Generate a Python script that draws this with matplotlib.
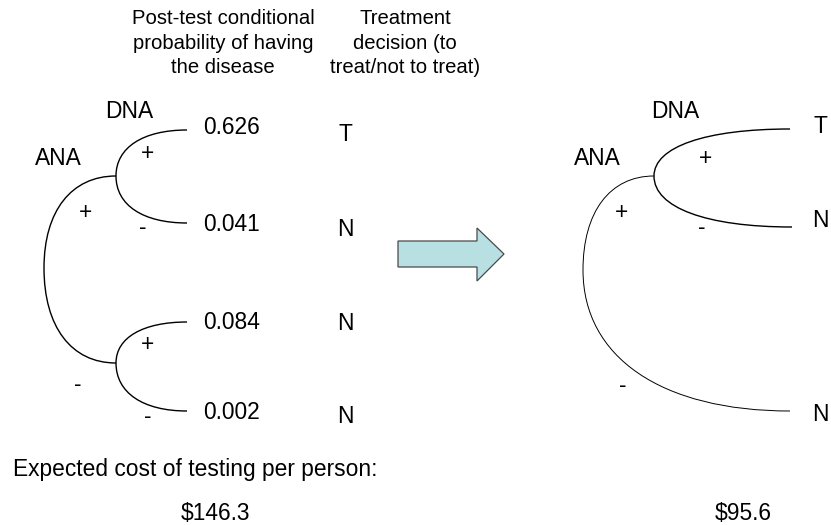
import matplotlib
matplotlib.use("Agg")
import matplotlib.pyplot as plt
from matplotlib.path import Path
from matplotlib.patches import PathPatch, Polygon

plt.rcParams['font.family'] = ['Liberation Sans', 'DejaVu Sans']

# ---- content ----
header_prob = ["Post-test conditional", "probability of having", "the disease"]
header_treat = ["Treatment", "decision (to", "treat/not to treat)"]
probs = ["0.626", "0.041", "0.084", "0.002"]
decisions_before = ["T", "N", "N", "N"]
decisions_after = ["T", "N", "N"]
cost_label = "Expected cost of testing per person:"
costs = ["$146.3", "$95.6"]

# ---- layout (pixel coords, y down) ----
W, H = 831, 525
DPI = 100
LABEL_FS = 16.4
HEAD_FS = 14.6
K = 0.62  # bezier bulge

fig = plt.figure(figsize=(W / DPI, H / DPI), dpi=DPI)
ax = fig.add_axes([0, 0, 1, 1])
ax.set_xlim(0, W)
ax.set_ylim(H, 0)
ax.set_axis_off()


def txt(x, y, s, fs=LABEL_FS, ha='center', off=0.36):
    # y is the visual centre of the glyphs; place the baseline below it
    em = fs * DPI / 72.0
    ax.text(x, y + off * em, s, fontsize=fs, ha=ha, va='baseline', color='black')


def arc(p0, p1, lw=1.0):
    # vertical tangent at p0, horizontal tangent at p1
    (x0, y0), (x1, y1) = p0, p1
    verts = [(x0, y0), (x0, y0 + K * (y1 - y0)), (x1 - K * (x1 - x0), y1), (x1, y1)]
    codes = [Path.MOVETO, Path.CURVE4, Path.CURVE4, Path.CURVE4]
    ax.add_patch(PathPatch(Path(verts, codes), fc='none', ec='black', lw=lw))


# headers
for i, y in enumerate([17, 42, 66]):
    txt(223, y, header_prob[i], fs=HEAD_FS)
    txt(405, y, header_treat[i], fs=HEAD_FS)

# ---- left tree ----
root_l = (44, 268)
nodes_l = [(116, 176), (116, 363)]
leaves_l = [(187, 130), (187, 223), (187, 322), (187, 411)]
for n in nodes_l:
    arc(root_l, n)
arc(nodes_l[0], leaves_l[0]); arc(nodes_l[0], leaves_l[1])
arc(nodes_l[1], leaves_l[2]); arc(nodes_l[1], leaves_l[3])

txt(129, 110, "DNA")
txt(58, 157, "ANA")
txt(147, 152, "+"); txt(85, 211, "+"); txt(147, 343, "+")
txt(143, 228, "-", off=0.27); txt(78, 385, "-", off=0.27); txt(148, 417, "-", off=0.27)

prob_y = [126, 223, 321, 411]
dec_y = [133, 228, 322, 415]
for p, y in zip(probs, prob_y):
    txt(203, y, p, ha='left')
for d, y in zip(decisions_before, dec_y):
    txt(345, y, d)

# ---- arrow ----
arrow = [(398, 241), (477, 241), (477, 228), (504, 254), (477, 281), (477, 267), (398, 267)]
ax.add_patch(Polygon(arrow, closed=True, fc='#b8dfe1', ec='#4a4a4a', lw=0.9))

# ---- right tree ----
root_r = (583, 270)
node_r = (654, 176)
arc(root_r, node_r, lw=0.7)
arc(root_r, (790, 411), lw=0.7)
arc(node_r, (790, 129))
arc(node_r, (792, 227))

txt(675, 110, "DNA")
txt(597, 157, "ANA")
txt(705, 157, "+"); txt(622, 211, "+")
txt(702, 228, "-", off=0.27); txt(623, 386, "-", off=0.27)
for d, y in zip(decisions_after, [125, 219, 413]):
    txt(820, y, d)

# ---- bottom ----
txt(13, 468, cost_label, ha='left')
txt(215, 512, costs[0])
txt(743, 512, costs[1])

fig.savefig("out.png", dpi=DPI)
